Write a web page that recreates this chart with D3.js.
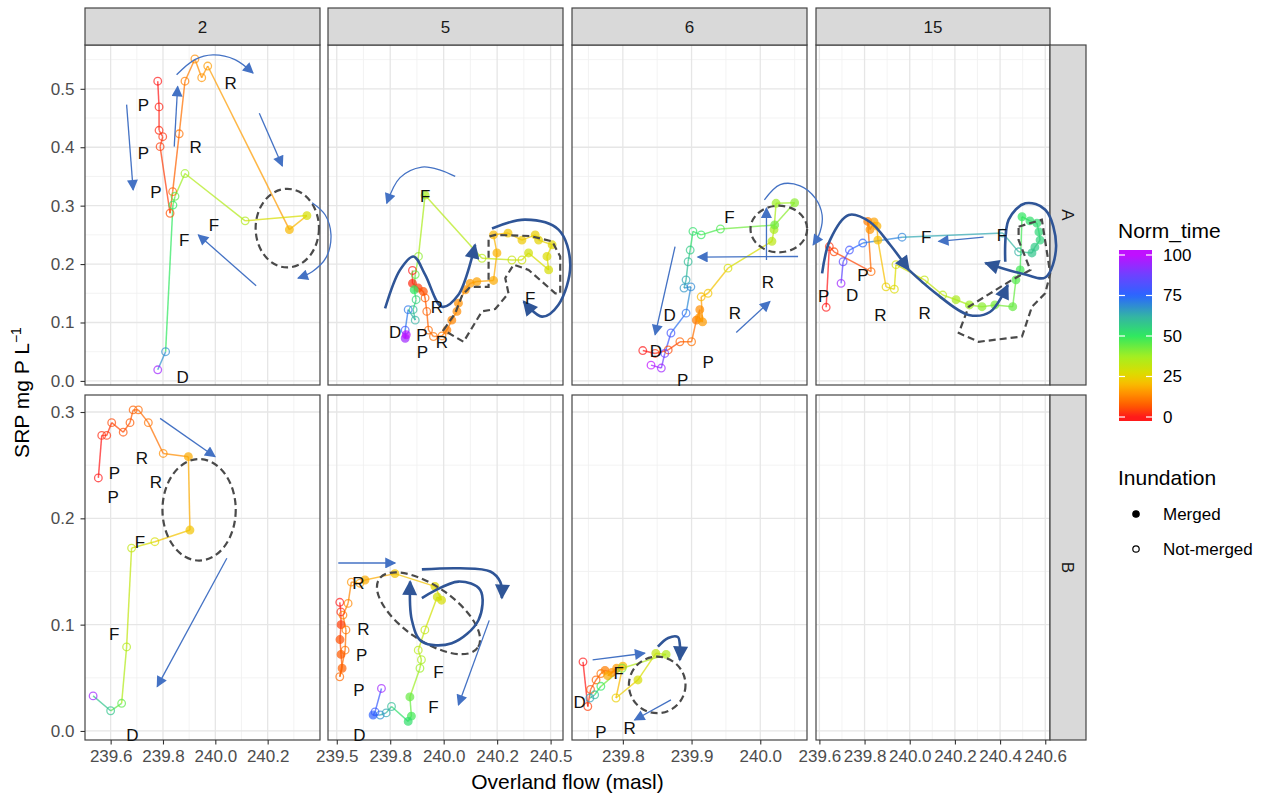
<!DOCTYPE html>
<html>
<head>
<meta charset="utf-8">
<script src="https://cdn.jsdelivr.net/npm/d3@7"></script>
<style>
body { margin: 0; background: #fff; }
svg text { font-family: "Liberation Sans", Arial, sans-serif; }
</style>
</head>
<body>
<svg id="chart" width="1271" height="796"></svg>
<script>
// facets
var sites = ["2", "5", "6", "15"];
var zones = ["A", "B"];

// tick labels per facet column / row
var xBreaks = [[239.6, 239.8, 240.0, 240.2], [239.5, 239.75, 240.0, 240.25, 240.5], [239.8, 239.9, 240.0], [239.6, 239.8, 240.0, 240.2, 240.4, 240.6]];
var xTickLabels = [["239.6", "239.8", "240.0", "240.2"], ["239.5", "239.8", "240.0", "240.2", "240.5"], ["239.8", "239.9", "240.0"], ["239.6", "239.8", "240.0", "240.2", "240.4", "240.6"]];
var yBreaks = [[0, 0.1, 0.2, 0.3, 0.4, 0.5], [0, 0.1, 0.2, 0.3]];
var yTickLabels = [["0.0", "0.1", "0.2", "0.3", "0.4", "0.5"], ["0.0", "0.1", "0.2", "0.3"]];
var timeBreaks = [0, 25, 50, 75, 100];

// [overland flow (masl), SRP (mg P/L), Norm_time, merged 1 / not-merged 0]
var site2A = [
  [239.780, 0.513, 0, 0], [239.785, 0.469, 1, 0], [239.785, 0.429, 2, 0], [239.799, 0.418, 3, 0],
  [239.789, 0.401, 4, 0], [239.827, 0.287, 6, 0], [239.837, 0.324, 8, 0], [239.862, 0.423, 10, 0],
  [239.884, 0.513, 12, 0], [239.922, 0.551, 14, 0], [239.948, 0.519, 15, 0], [239.971, 0.539, 16, 0],
  [240.283, 0.259, 20, 1], [240.350, 0.283, 28, 1], [240.114, 0.274, 35, 0], [239.884, 0.355, 38, 0],
  [239.846, 0.316, 45, 0], [239.838, 0.301, 50, 0], [239.810, 0.050, 68, 0], [239.780, 0.019, 95, 0]
];
var site5A = [
  [239.854, 0.189, 0, 0], [239.854, 0.167, 2, 1], [239.881, 0.159, 4, 1], [239.905, 0.153, 6, 1],
  [239.913, 0.142, 7, 0], [239.921, 0.119, 8, 0], [239.929, 0.087, 9, 0], [239.952, 0.076, 10, 0],
  [239.992, 0.077, 11, 0], [240.015, 0.087, 12, 1], [240.038, 0.104, 13, 1], [240.062, 0.119, 14, 1],
  [240.069, 0.133, 14.5, 1], [240.101, 0.156, 15, 1], [240.124, 0.167, 16, 1], [240.155, 0.170, 17, 1],
  [240.233, 0.172, 18, 1], [240.249, 0.219, 19, 1], [240.233, 0.250, 20, 1], [240.301, 0.253, 22, 1],
  [240.366, 0.241, 23, 1], [240.428, 0.250, 24, 1], [240.444, 0.241, 25, 1], [240.507, 0.233, 26, 1],
  [240.483, 0.213, 27, 1], [240.491, 0.190, 28, 1], [240.397, 0.219, 29, 1], [240.366, 0.207, 30, 0],
  [240.319, 0.207, 31, 0], [240.179, 0.210, 34, 0], [239.913, 0.318, 36, 1], [239.882, 0.213, 40, 0],
  [239.867, 0.182, 45, 0], [239.862, 0.156, 50, 1], [239.871, 0.139, 55, 0], [239.857, 0.122, 60, 0],
  [239.867, 0.104, 62, 0], [239.834, 0.122, 72, 0], [239.820, 0.087, 80, 0], [239.820, 0.073, 95, 1],
  [239.825, 0.079, 100, 1]
];
var site6A = [
  [239.829, 0.052, 0, 0], [239.847, 0.047, 3, 0], [239.866, 0.053, 5, 0], [239.883, 0.067, 8, 0],
  [239.900, 0.067, 10, 0], [239.907, 0.104, 12, 1], [239.912, 0.122, 14, 1], [239.911, 0.108, 15, 1],
  [239.916, 0.101, 16, 1], [239.914, 0.144, 20, 0], [239.924, 0.150, 22, 0], [239.953, 0.193, 28, 0],
  [240.017, 0.239, 33, 1], [240.020, 0.259, 36, 1], [240.023, 0.304, 38, 1], [240.050, 0.305, 40, 1],
  [240.021, 0.267, 43, 1], [239.942, 0.260, 47, 0], [239.914, 0.250, 50, 0], [239.902, 0.256, 52, 0],
  [239.898, 0.224, 57, 0], [239.895, 0.204, 60, 0], [239.892, 0.173, 64, 0], [239.889, 0.159, 67, 0],
  [239.899, 0.161, 69, 0], [239.892, 0.116, 73, 0], [239.870, 0.082, 80, 0], [239.861, 0.047, 88, 0],
  [239.856, 0.022, 95, 0], [239.841, 0.027, 100, 0]
];
var site15A = [
  [239.630, 0.126, 0, 0], [239.644, 0.230, 3, 0], [239.665, 0.221, 5, 0], [239.829, 0.187, 9, 0],
  [239.814, 0.273, 12, 1], [239.824, 0.259, 15, 1], [239.842, 0.272, 17, 1], [239.855, 0.265, 19, 1],
  [239.859, 0.241, 21, 1], [239.895, 0.161, 25, 0], [239.932, 0.157, 27, 0], [239.939, 0.199, 29, 0],
  [240.065, 0.173, 32, 0], [240.146, 0.147, 34, 0], [240.205, 0.139, 36, 1], [240.264, 0.130, 38, 1],
  [240.320, 0.127, 40, 1], [240.377, 0.130, 42, 1], [240.456, 0.127, 44, 1], [240.470, 0.173, 46, 1],
  [240.489, 0.190, 48, 1], [240.497, 0.281, 50, 1], [240.532, 0.274, 52, 1], [240.563, 0.270, 53, 1],
  [240.572, 0.255, 54, 1], [240.577, 0.241, 55, 1], [240.554, 0.229, 57, 1], [240.541, 0.219, 58, 1],
  [240.482, 0.221, 62, 0], [240.412, 0.253, 64, 0], [239.966, 0.246, 70, 0], [239.792, 0.236, 75, 0],
  [239.733, 0.224, 80, 0], [239.705, 0.204, 85, 0], [239.696, 0.167, 95, 0]
];
var site2B = [
  [239.553, 0.238, 0, 0], [239.566, 0.278, 2, 0], [239.585, 0.278, 3, 0], [239.604, 0.290, 5, 0],
  [239.648, 0.281, 6, 0], [239.674, 0.290, 7, 0], [239.686, 0.302, 8, 0], [239.706, 0.302, 9, 0],
  [239.744, 0.290, 10, 0], [239.801, 0.261, 14, 0], [239.897, 0.258, 18, 1], [239.903, 0.189, 22, 1],
  [239.769, 0.178, 28, 0], [239.680, 0.172, 32, 0], [239.661, 0.079, 35, 0], [239.642, 0.026, 45, 0],
  [239.600, 0.019, 58, 0], [239.533, 0.033, 95, 0]
];
var site5B = [
  [239.514, 0.121, 0, 0], [239.519, 0.112, 2, 0], [239.520, 0.100, 4, 1], [239.515, 0.086, 6, 1],
  [239.520, 0.072, 7, 1], [239.525, 0.059, 8, 1], [239.514, 0.051, 9, 0], [239.539, 0.076, 10, 0],
  [239.543, 0.095, 11, 0], [239.529, 0.109, 12, 0], [239.553, 0.120, 13, 0], [239.568, 0.140, 15, 0],
  [239.608, 0.139, 17, 0], [239.632, 0.142, 18, 1], [239.772, 0.148, 22, 1], [239.959, 0.136, 26, 1],
  [239.990, 0.123, 28, 1], [239.970, 0.126, 29, 1], [239.912, 0.095, 32, 0], [239.881, 0.076, 34, 0],
  [239.896, 0.067, 36, 0], [239.889, 0.059, 38, 0], [239.842, 0.032, 44, 1], [239.849, 0.014, 48, 1],
  [239.834, 0.009, 52, 1], [239.756, 0.023, 60, 0], [239.731, 0.017, 64, 0], [239.703, 0.015, 68, 0],
  [239.670, 0.015, 76, 1], [239.679, 0.018, 78, 0], [239.709, 0.040, 95, 0]
];
var site6B = [
  [239.742, 0.065, 0, 0], [239.749, 0.023, 4, 0], [239.753, 0.039, 6, 0], [239.761, 0.048, 8, 0],
  [239.768, 0.054, 10, 0], [239.774, 0.057, 12, 1], [239.784, 0.055, 14, 1], [239.791, 0.059, 16, 1],
  [239.778, 0.052, 18, 1], [239.800, 0.061, 20, 1], [239.790, 0.031, 24, 0], [239.822, 0.048, 28, 1],
  [239.848, 0.073, 32, 1], [239.863, 0.072, 35, 1], [239.799, 0.059, 42, 0], [239.768, 0.042, 50, 0],
  [239.759, 0.034, 60, 0], [239.752, 0.031, 65, 0]
];

// hand-drawn notes, in the data units of each panel
var notes2A = {
  letters: [["P", 239.725, 0.473], ["P", 239.725, 0.390], ["P", 239.773, 0.324], ["R", 240.059, 0.510], ["R", 239.925, 0.400], ["F", 239.995, 0.267], ["F", 239.881, 0.241], ["D", 239.875, 0.007]],
  arrows: [[239.661, 0.473, 239.686, 0.327], [239.843, 0.401, 239.856, 0.504], [240.168, 0.458, 240.256, 0.368], [240.156, 0.163, 239.935, 0.250]],
  arcs: [[[239.852, 0.524], [239.922, 0.550], [239.991, 0.558], [240.075, 0.550], [240.144, 0.527]],
         [[240.370, 0.305], [240.420, 0.284], [240.442, 0.250], [240.423, 0.211], [240.370, 0.187], [240.316, 0.176]]],
  rings: [[240.275, 0.2615, 0.121, 0.0673, 0]]
};
var notes5A = {
  letters: [["F", 239.913, 0.316], ["R", 239.968, 0.127], ["P", 239.898, 0.079], ["P", 239.901, 0.050], ["R", 239.992, 0.067], ["D", 239.773, 0.084], ["F", 240.405, 0.142]],
  arcs: [[[240.054, 0.350], [239.984, 0.361], [239.898, 0.366], [239.796, 0.348], [239.734, 0.304]]],
  sweeps: [[[239.726, 0.124], [239.796, 0.190], [239.859, 0.213], [239.913, 0.182], [239.992, 0.127], [240.068, 0.147], [240.147, 0.233]],
           [[240.226, 0.261], [240.382, 0.276], [240.537, 0.259], [240.592, 0.199], [240.536, 0.130], [240.460, 0.110], [240.374, 0.136]]],
  fences: [[[239.999, 0.087], [240.054, 0.116], [240.087, 0.147], [240.124, 0.161], [240.210, 0.161], [240.210, 0.247], [240.241, 0.250], [240.405, 0.248], [240.507, 0.239], [240.545, 0.213], [240.545, 0.150], [240.522, 0.150], [240.397, 0.190], [240.327, 0.199], [240.288, 0.176], [240.303, 0.150], [240.241, 0.123], [240.179, 0.119], [240.093, 0.067]]]
};
var notes6A = {
  letters: [["F", 239.955, 0.281], ["R", 240.011, 0.170], ["R", 239.963, 0.116], ["D", 239.868, 0.113], ["D", 239.848, 0.052], ["P", 239.924, 0.033], ["P", 239.887, 0.002]],
  arrows: [[239.876, 0.230, 239.847, 0.079], [240.055, 0.213, 239.909, 0.212], [239.965, 0.083, 240.014, 0.136], [240.009, 0.207, 240.009, 0.296]],
  arcs: [[[240.006, 0.310], [240.029, 0.336], [240.058, 0.334], [240.080, 0.313], [240.090, 0.284], [240.087, 0.255], [240.077, 0.233]]],
  rings: [[240.027, 0.260, 0.0412, 0.0399, 0]]
};
var notes15A = {
  letters: [["F", 240.073, 0.247], ["F", 240.408, 0.250], ["P", 239.793, 0.182], ["P", 239.619, 0.146], ["D", 239.745, 0.147], ["R", 239.870, 0.113], ["R", 240.066, 0.116]],
  arrows: [[240.327, 0.246, 240.128, 0.239]],
  sweeps: [[[239.612, 0.184], [239.647, 0.241], [239.730, 0.284], [239.824, 0.272], [239.913, 0.233], [239.996, 0.190]],
           [[239.996, 0.190], [240.112, 0.151], [240.261, 0.113], [240.355, 0.118], [240.434, 0.164]],
           [[240.423, 0.204], [240.438, 0.276], [240.512, 0.304], [240.600, 0.293], [240.648, 0.230], [240.600, 0.177], [240.512, 0.182], [240.335, 0.202]]],
  fences: [[[240.482, 0.264], [240.585, 0.276], [240.622, 0.184], [240.600, 0.150], [240.541, 0.127], [240.497, 0.076], [240.305, 0.067], [240.217, 0.082], [240.261, 0.127], [240.453, 0.173], [240.534, 0.190], [240.482, 0.241]]]
};
var notes2B = {
  letters: [["R", 239.719, 0.2565], ["P", 239.614, 0.243], ["P", 239.610, 0.220], ["R", 239.773, 0.2345], ["F", 239.712, 0.1775], ["F", 239.614, 0.091], ["D", 239.683, -0.004]],
  arrows: [[239.789, 0.294, 239.999, 0.258], [240.044, 0.1625, 239.778, 0.0417]],
  rings: [[239.938, 0.208, 0.140, 0.0477, 0]]
};
var notes5B = {
  letters: [["R", 239.601, 0.139], ["R", 239.625, 0.0957], ["P", 239.617, 0.0715], ["P", 239.604, 0.0386], ["F", 239.976, 0.0558], ["F", 239.952, 0.0223], ["D", 239.606, -0.004]],
  arrows: [[239.507, 0.158, 239.773, 0.158], [240.213, 0.104, 240.069, 0.0245]],
  sweeps: [[[239.898, 0.152], [240.077, 0.153], [240.218, 0.150], [240.265, 0.140], [240.272, 0.125]],
           [[239.898, 0.125], [240.069, 0.1405], [240.171, 0.1326], [240.163, 0.1044], [240.038, 0.0825], [239.898, 0.084], [239.851, 0.1044], [239.843, 0.1405]]],
  rings: [[239.929, 0.1107, 0.281, 0.0254, 35]]
};
var notes6B = {
  letters: [["F", 239.794, 0.0543], ["D", 239.737, 0.0276], ["P", 239.768, -0.0007], ["R", 239.810, 0.0025]],
  arrows: [[239.756, 0.0668, 239.832, 0.0731], [239.870, 0.0292, 239.817, 0.0103]],
  sweeps: [[[239.851, 0.0793], [239.866, 0.0875], [239.880, 0.0884], [239.883, 0.0809], [239.883, 0.0668]]],
  rings: [[239.850, 0.0433, 0.0412, 0.0266, 0]]
};

var panels = [
  {col: 0, row: 0, data: site2A, notes: notes2A}, {col: 1, row: 0, data: site5A, notes: notes5A},
  {col: 2, row: 0, data: site6A, notes: notes6A}, {col: 3, row: 0, data: site15A, notes: notes15A},
  {col: 0, row: 1, data: site2B, notes: notes2B}, {col: 1, row: 1, data: site5B, notes: notes5B},
  {col: 2, row: 1, data: site6B, notes: notes6B}, {col: 3, row: 1, data: [], notes: {}}
];

// layout
var colX = [[85, 320], [328, 563], [572, 807], [816, 1050]];
var rowY = [[45, 385], [395, 740]];
var xDomains = [[239.502, 240.400], [239.459, 240.558], [239.726, 240.068], [239.585, 240.621]];
var yDomains = [[-0.007, 0.575], [-0.0085, 0.316]];

var xScales = colX.map(function(r, i) { return d3.scaleLinear().domain(xDomains[i]).range(r); });
var yScales = rowY.map(function(r, i) { return d3.scaleLinear().domain(yDomains[i]).range([r[1], r[0]]); });

var colour = d3.scaleLinear()
  .domain([0, 7, 15, 21, 27, 37, 50, 62, 75, 88, 100])
  .range(["#ff1a1a", "#ff5a00", "#ff9400", "#f8bf00", "#dcdc00", "#a6ee20", "#30e860", "#34b4a4", "#2a66ff", "#7040ff", "#c010ff"])
  .interpolate(d3.interpolateRgb);

var svg = d3.select("#chart");
var defs = svg.append("defs");

function marker(id, fill, w, h) {
  defs.append("marker").attr("id", id)
    .attr("viewBox", "0 0 10 10").attr("refX", 9).attr("refY", 5)
    .attr("markerWidth", w).attr("markerHeight", h)
    .attr("markerUnits", "userSpaceOnUse").attr("orient", "auto")
    .append("path").attr("d", "M0,0L10,5L0,10z").attr("fill", fill);
}
marker("headBlue", "#4472c4", 13, 11);
marker("headDark", "#2f5597", 16, 15);

function minors(breaks, dom) {
  var step = breaks[1] - breaks[0], out = [];
  for (var k = -2; k <= breaks.length + 1; k++) {
    var v = breaks[0] + (k + 0.5) * step;
    if (v > dom[0] && v < dom[1]) out.push(v);
  }
  return out;
}

// panels: background, grid, data
panels.forEach(function(p, i) {
  var x = xScales[p.col], y = yScales[p.row];
  var xr = colX[p.col], yr = rowY[p.row];
  var g = svg.append("g");
  defs.append("clipPath").attr("id", "clip" + i)
    .append("rect").attr("x", xr[0]).attr("y", yr[0]).attr("width", xr[1] - xr[0]).attr("height", yr[1] - yr[0]);

  g.append("rect").attr("x", xr[0]).attr("y", yr[0]).attr("width", xr[1] - xr[0]).attr("height", yr[1] - yr[0]).attr("fill", "#fff");

  var grid = g.append("g");
  minors(xBreaks[p.col], xDomains[p.col]).forEach(function(v) {
    grid.append("line").attr("x1", x(v)).attr("x2", x(v)).attr("y1", yr[0]).attr("y2", yr[1]).attr("stroke", "#f0f0f0").attr("stroke-width", 0.8);
  });
  minors(yBreaks[p.row], yDomains[p.row]).forEach(function(v) {
    grid.append("line").attr("y1", y(v)).attr("y2", y(v)).attr("x1", xr[0]).attr("x2", xr[1]).attr("stroke", "#f0f0f0").attr("stroke-width", 0.8);
  });
  xBreaks[p.col].forEach(function(v) {
    grid.append("line").attr("x1", x(v)).attr("x2", x(v)).attr("y1", yr[0]).attr("y2", yr[1]).attr("stroke", "#e6e6e6").attr("stroke-width", 1.3);
  });
  yBreaks[p.row].forEach(function(v) {
    grid.append("line").attr("y1", y(v)).attr("y2", y(v)).attr("x1", xr[0]).attr("x2", xr[1]).attr("stroke", "#e6e6e6").attr("stroke-width", 1.3);
  });

  var dg = g.append("g").attr("clip-path", "url(#clip" + i + ")");
  var segs = d3.pairs(p.data);
  dg.selectAll("line.seg").data(segs).enter().append("line")
    .attr("x1", function(d) { return x(d[0][0]); }).attr("y1", function(d) { return y(d[0][1]); })
    .attr("x2", function(d) { return x(d[1][0]); }).attr("y2", function(d) { return y(d[1][1]); })
    .attr("stroke", function(d) { return colour(d[0][2]); })
    .attr("stroke-width", 1.5).attr("stroke-opacity", 0.72);
  dg.selectAll("circle").data(p.data).enter().append("circle")
    .attr("cx", function(d) { return x(d[0]); }).attr("cy", function(d) { return y(d[1]); })
    .attr("r", 3.8)
    .attr("stroke", function(d) { return colour(d[2]); }).attr("stroke-width", 1.3)
    .attr("fill", function(d) { return d[3] ? colour(d[2]) : "none"; })
    .attr("opacity", 0.7);

  g.append("rect").attr("x", xr[0]).attr("y", yr[0]).attr("width", xr[1] - xr[0]).attr("height", yr[1] - yr[0])
    .attr("fill", "none").attr("stroke", "#444").attr("stroke-width", 1.2);
});

// strips
sites.forEach(function(s, c) {
  var xr = colX[c];
  svg.append("rect").attr("x", xr[0]).attr("y", 8).attr("width", xr[1] - xr[0]).attr("height", 37)
    .attr("fill", "#d9d9d9").attr("stroke", "#444").attr("stroke-width", 1.2);
  svg.append("text").attr("x", (xr[0] + xr[1]) / 2).attr("y", 27).attr("dy", "0.35em")
    .attr("text-anchor", "middle").attr("font-size", 17).attr("fill", "#1a1a1a").text(s);
});
zones.forEach(function(z, r) {
  var yr = rowY[r];
  svg.append("rect").attr("x", 1050).attr("y", yr[0]).attr("width", 36).attr("height", yr[1] - yr[0])
    .attr("fill", "#d9d9d9").attr("stroke", "#444").attr("stroke-width", 1.2);
  var cy = (yr[0] + yr[1]) / 2;
  svg.append("text").attr("transform", "translate(1068," + cy + ") rotate(90)").attr("dy", "0.35em")
    .attr("text-anchor", "middle").attr("font-size", 17).attr("fill", "#1a1a1a").text(z);
});

// axes
function styleAxis(ax) {
  ax.select(".domain").remove();
  ax.selectAll(".tick line").attr("stroke", "#333").attr("stroke-width", 1.1);
  ax.selectAll(".tick text").attr("fill", "#4d4d4d").attr("font-size", 17)
    .attr("font-family", "'Liberation Sans', Arial, sans-serif");
}
sites.forEach(function(s, c) {
  var ax = svg.append("g").attr("transform", "translate(0," + rowY[1][1] + ")")
    .call(d3.axisBottom(xScales[c]).tickValues(xBreaks[c])
      .tickFormat(function(d, i) { return xTickLabels[c][i]; })
      .tickSize(4.5).tickPadding(5).tickSizeOuter(0));
  styleAxis(ax);
});
zones.forEach(function(z, r) {
  var ax = svg.append("g").attr("transform", "translate(" + colX[0][0] + ",0)")
    .call(d3.axisLeft(yScales[r]).tickValues(yBreaks[r])
      .tickFormat(function(d, i) { return yTickLabels[r][i]; })
      .tickSize(4.5).tickPadding(6).tickSizeOuter(0));
  styleAxis(ax);
});

svg.append("text").attr("x", (colX[0][0] + colX[3][1]) / 2).attr("y", 789)
  .attr("text-anchor", "middle").attr("font-size", 21).attr("fill", "#000").text("Overland flow (masl)");
var yt = svg.append("text").attr("transform", "translate(29," + ((rowY[0][0] + rowY[1][1]) / 2) + ") rotate(-90)")
  .attr("text-anchor", "middle").attr("font-size", 21).attr("fill", "#000");
yt.append("tspan").text("SRP mg P L");
yt.append("tspan").attr("dy", -8).attr("font-size", 14).text("\u22121");

// notes on top of the panels
var curve = d3.line().curve(d3.curveCatmullRom.alpha(0.5));
var ink = svg.append("g");
panels.forEach(function(p) {
  var x = xScales[p.col], y = yScales[p.row], n = p.notes;
  function pt(d) { return [x(d[0]), y(d[1])]; }
  (n.rings || []).forEach(function(e) {
    var cx = x(e[0]), cy = y(e[1]);
    ink.append("ellipse").attr("cx", cx).attr("cy", cy)
      .attr("rx", Math.abs(x(e[0] + e[2]) - cx)).attr("ry", Math.abs(y(e[1] + e[3]) - cy))
      .attr("transform", "rotate(" + e[4] + "," + cx + "," + cy + ")")
      .attr("fill", "none").attr("stroke", "#4a4a4a").attr("stroke-width", 2.2).attr("stroke-dasharray", "7,4");
  });
  (n.fences || []).forEach(function(f) {
    ink.append("path").attr("d", d3.line().curve(d3.curveLinearClosed)(f.map(pt)))
      .attr("fill", "none").attr("stroke", "#4a4a4a").attr("stroke-width", 2.2).attr("stroke-dasharray", "7,4");
  });
  (n.arrows || []).forEach(function(a) {
    ink.append("line").attr("x1", x(a[0])).attr("y1", y(a[1])).attr("x2", x(a[2])).attr("y2", y(a[3]))
      .attr("stroke", "#4472c4").attr("stroke-width", 1.3).attr("marker-end", "url(#headBlue)");
  });
  (n.arcs || []).forEach(function(a) {
    ink.append("path").attr("d", curve(a.map(pt)))
      .attr("fill", "none").attr("stroke", "#4472c4").attr("stroke-width", 1.3).attr("marker-end", "url(#headBlue)");
  });
  (n.sweeps || []).forEach(function(a) {
    ink.append("path").attr("d", curve(a.map(pt)))
      .attr("fill", "none").attr("stroke", "#2f5597").attr("stroke-width", 2.6).attr("marker-end", "url(#headDark)");
  });
  (n.letters || []).forEach(function(l) {
    ink.append("text").attr("x", x(l[1])).attr("y", y(l[2])).attr("dy", "0.36em")
      .attr("text-anchor", "middle").attr("font-family", "Lato, 'Open Sans', sans-serif")
      .attr("font-size", 17).attr("fill", "#111").text(l[0]);
  });
});

// legend: colour bar
var barX = 1119, barW = 33, barTop = 250, barBottom = 421;
var barScale = d3.scaleLinear().domain([0, 100]).range([417, 255]);
var grad = defs.append("linearGradient").attr("id", "timeGrad").attr("x1", 0).attr("y1", 1).attr("x2", 0).attr("y2", 0);
d3.range(0, 101, 2).forEach(function(v) {
  grad.append("stop").attr("offset", (barBottom - barScale(v)) / (barBottom - barTop)).attr("stop-color", colour(v));
});
svg.append("text").attr("x", 1118).attr("y", 238).attr("font-size", 21).attr("fill", "#000").text("Norm_time");
svg.append("rect").attr("x", barX).attr("y", barTop).attr("width", barW).attr("height", barBottom - barTop).attr("fill", "url(#timeGrad)");
timeBreaks.forEach(function(v) {
  var ty = barScale(v);
  svg.append("line").attr("x1", barX).attr("x2", barX + 6).attr("y1", ty).attr("y2", ty).attr("stroke", "#fff").attr("stroke-width", 1.2);
  svg.append("line").attr("x1", barX + barW - 6).attr("x2", barX + barW).attr("y1", ty).attr("y2", ty).attr("stroke", "#fff").attr("stroke-width", 1.2);
  svg.append("text").attr("x", 1163).attr("y", ty).attr("dy", "0.35em").attr("font-size", 17).attr("fill", "#000").text(v);
});

// legend: inundation
svg.append("text").attr("x", 1118).attr("y", 485).attr("font-size", 21).attr("fill", "#000").text("Inundation");
[["Merged", 1], ["Not-merged", 0]].forEach(function(k, i) {
  var ky = 514 + i * 35;
  svg.append("circle").attr("cx", 1136).attr("cy", ky).attr("r", 3.2)
    .attr("fill", k[1] ? "#000" : "none").attr("stroke", "#000").attr("stroke-width", 1.2);
  svg.append("text").attr("x", 1163).attr("y", ky).attr("dy", "0.35em").attr("font-size", 17).attr("fill", "#000").text(k[0]);
});
</script>
</body>
</html>
